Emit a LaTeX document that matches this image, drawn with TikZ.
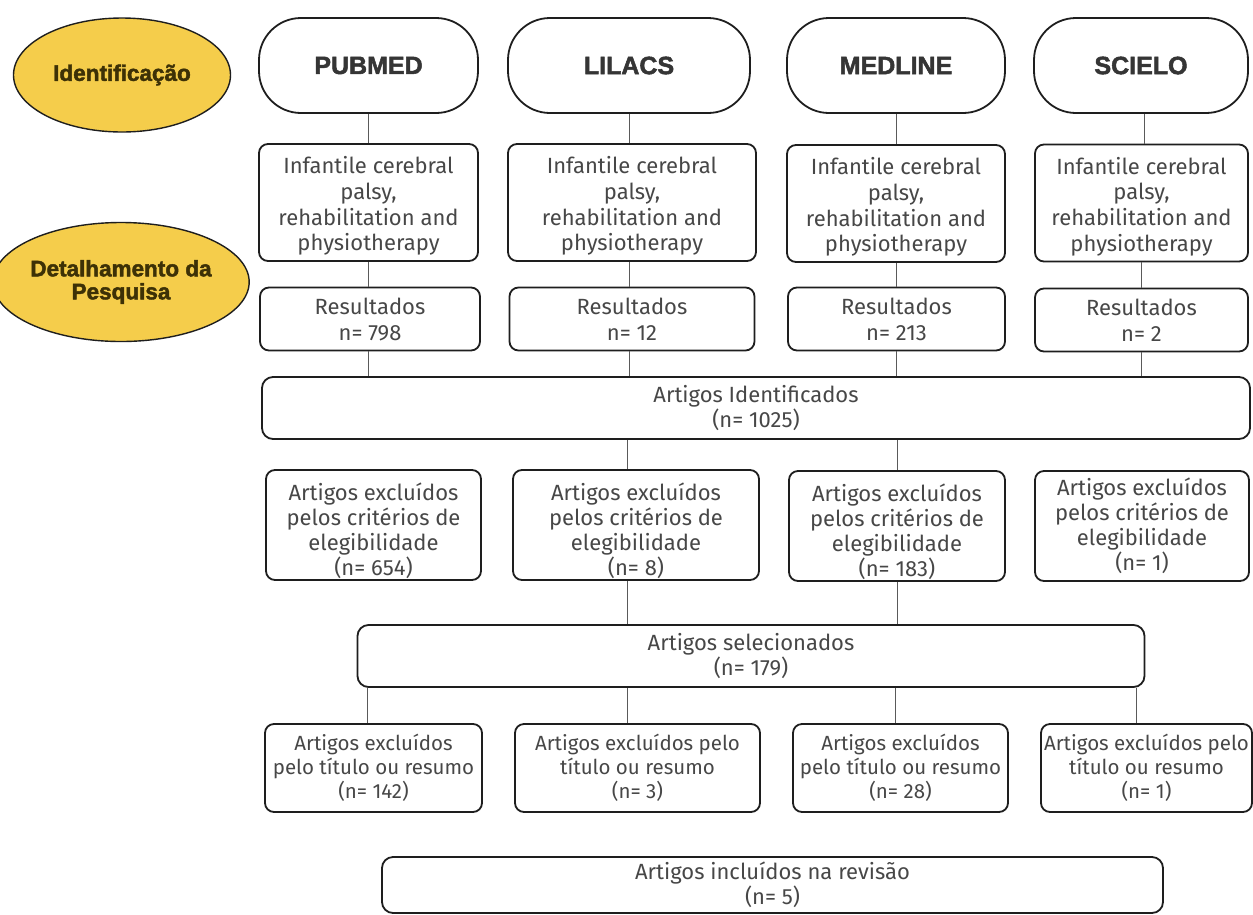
\documentclass[tikz,border=0pt]{standalone}
\usepackage{fontspec}
\setmainfont{Fira Sans}
\newfontfamily\headfont{Liberation Sans}[BoldFeatures={FakeBold=2}]
\usetikzlibrary{shapes.geometric,calc}
\definecolor{ellfill}{HTML}{F5CD4B}
\definecolor{elltext}{HTML}{3D3106}
\definecolor{headtext}{HTML}{353535}
\definecolor{bodytext}{HTML}{474747}
\definecolor{outline}{HTML}{1E1E1E}
\definecolor{connc}{HTML}{5A5A5A}
\newcommand\kwpad{\rule{0pt}{24pt}}
\newcommand\expad{\rule{0pt}{29pt}}
\tikzset{
  ellnode/.style={ellipse, draw=outline, line width=1.4pt, fill=ellfill, inner sep=0pt,
    text=elltext, font=\headfont\bfseries\fontsize{22.5}{23}\selectfont, align=center},
  dbbox/.style={draw=outline, line width=1.8pt, rounded corners=42pt, inner sep=0pt,
    text=headtext, font=\headfont\bfseries\fontsize{25}{28}\selectfont, minimum height=95pt},
  kwbox/.style={draw=outline, line width=1.8pt, rounded corners=9pt, inner sep=0pt,
    text=bodytext, font=\fontsize{22}{25.7}\selectfont, align=center, minimum height=117pt},
  resbox/.style={draw=outline, line width=1.8pt, rounded corners=9pt, inner sep=0pt,
    text=bodytext, font=\fontsize{22}{26}\selectfont, align=center, minimum height=63pt},
  widebox/.style={draw=outline, line width=1.8pt, rounded corners=11pt, inner sep=0pt,
    text=bodytext, font=\fontsize{22}{25}\selectfont, align=center},
  exbox/.style={draw=outline, line width=1.8pt, rounded corners=9pt, inner sep=0pt,
    text=bodytext, font=\fontsize{22}{25}\selectfont, align=center, minimum height=110pt},
  tibox/.style={draw=outline, line width=1.8pt, rounded corners=9pt, inner sep=0pt,
    text=bodytext, font=\fontsize{20.5}{24}\selectfont, align=center, minimum height=88pt},
  conn/.style={draw=connc, line width=1pt}
}
\begin{document}
\begin{tikzpicture}[x=1pt,y=-1pt]
\useasboundingbox (0,0) rectangle (1253,914);
\fill[white] (0,0) rectangle (1253,914);
% ellipses
\node[ellnode, minimum width=217pt, minimum height=114pt] (e_id) at (122,75) {Identificação};
\node[ellnode, minimum width=218pt, minimum height=119pt] (e_det) at (121,282) {Detalhamento da\\Pesquisa};
% databases
\node[dbbox, minimum width=219pt] (db1) at (368.5,65.5) {PUBMED};
\node[dbbox, minimum width=242pt] (db2) at (629,65.5) {LILACS};
\node[dbbox, minimum width=218pt] (db3) at (896,65.5) {MEDLINE};
\node[dbbox, minimum width=214pt] (db4) at (1141,65.5) {SCIELO};
% keywords
\node[kwbox, minimum width=219pt] (kw1) at (368.5,202.5) {\kwpad Infantile cerebral\\palsy,\\rehabilitation and\\physiotherapy};
\node[kwbox, minimum width=248pt] (kw2) at (632,202.5) {\kwpad Infantile cerebral\\palsy,\\rehabilitation and\\physiotherapy};
\node[kwbox, minimum width=218pt] (kw3) at (896,203.5) {\kwpad Infantile cerebral\\palsy,\\rehabilitation and\\physiotherapy};
\node[kwbox, minimum width=213pt] (kw4) at (1141.5,203) {\kwpad Infantile cerebral\\palsy,\\rehabilitation and\\physiotherapy};
% results
\node[resbox, minimum width=220pt] (r1) at (370,319) {Resultados\\n= 798};
\node[resbox, minimum width=245pt] (r2) at (632,319) {Resultados\\n= 12};
\node[resbox, minimum width=217pt] (r3) at (896.5,319) {Resultados\\n= 213};
\node[resbox, minimum width=213pt] (r4) at (1141.5,320) {Resultados\\n= 2};
% identified
\node[widebox, minimum width=988pt, minimum height=62pt] (ident) at (756,408) {Artigos Identificados\\(n= 1025)};
% excluded by eligibility
\node[exbox, minimum width=215pt] (x1) at (373.5,525) {\expad Artigos excluídos\\pelos critérios de\\elegibilidade\\(n= 654)};
\node[exbox, minimum width=246pt] (x2) at (636,525) {\expad Artigos excluídos\\pelos critérios de\\elegibilidade\\(n= 8)};
\node[exbox, minimum width=216pt] (x3) at (897,526) {\expad Artigos excluídos\\pelos critérios de\\elegibilidade\\(n= 183)};
\node[exbox, minimum width=214pt] (x4) at (1142,526) {Artigos excluídos\\pelos critérios de\\elegibilidade\\(n= 1)};
% selected
\node[widebox, minimum width=787pt, minimum height=62pt] (sel) at (751,656) {Artigos selecionados\\(n= 179)};
% excluded by title
\node[tibox, minimum width=217pt] (t1) at (373.5,768) {Artigos excluídos\\pelo título ou resumo\\(n= 142)};
\node[tibox, minimum width=245pt] (t2) at (637.5,768) {Artigos excluídos pelo\\título ou resumo\\(n= 3)};
\node[tibox, minimum width=215pt] (t3) at (900.5,768) {Artigos excluídos\\pelo título ou resumo\\(n= 28)};
\node[tibox, minimum width=211pt] (t4) at (1146.5,768) {Artigos excluídos pelo\\título ou resumo\\(n= 1)};
% included
\node[widebox, minimum width=781pt, minimum height=56pt] (incl) at (772.5,885) {Artigos incluídos na revisão\\(n= 5)};
% connectors
\draw[conn] (db1.south) -- (db1.south |- kw1.north);
\draw[conn] (db2.south) -- (db2.south |- kw2.north);
\draw[conn] (db3.south) -- (db3.south |- kw3.north);
\draw[conn] ([xshift=3pt]db4.south) -- ([xshift=3pt]db4.south |- kw4.north);
\draw[conn] (db1.south |- kw1.south) -- (db1.south |- r1.north);
\draw[conn] (db2.south |- kw2.south) -- (db2.south |- r2.north);
\draw[conn] (db3.south |- kw3.south) -- (db3.south |- r3.north);
\draw[conn] (db4.south |- kw4.south) -- (db4.south |- r4.north);
\draw[conn] (db1.south |- r1.south) -- (db1.south |- ident.north);
\draw[conn] (db2.south |- r2.south) -- (db2.south |- ident.north);
\draw[conn] (db3.south |- r3.south) -- (db3.south |- ident.north);
\draw[conn] (db4.south |- r4.south) -- (db4.south |- ident.north);
\draw[conn] ([xshift=-9pt]x2.north |- ident.south) -- ([xshift=-9pt]x2.north);
\draw[conn] (x3.north |- ident.south) -- (x3.north);
\draw[conn] ([xshift=-9pt]x2.south) -- ([xshift=-9pt]x2.south |- sel.north);
\draw[conn] (x3.south) -- (x3.south |- sel.north);
\draw[conn] ([xshift=-6pt]t1.north |- sel.south) -- ([xshift=-6pt]t1.north);
\draw[conn] ([xshift=-10pt]t2.north |- sel.south) -- ([xshift=-10pt]t2.north);
\draw[conn] ([xshift=-5pt]t3.north |- sel.south) -- ([xshift=-5pt]t3.north);
\draw[conn] ([xshift=-10pt]t4.north |- sel.south) -- ([xshift=-10pt]t4.north);
\end{tikzpicture}
\end{document}
